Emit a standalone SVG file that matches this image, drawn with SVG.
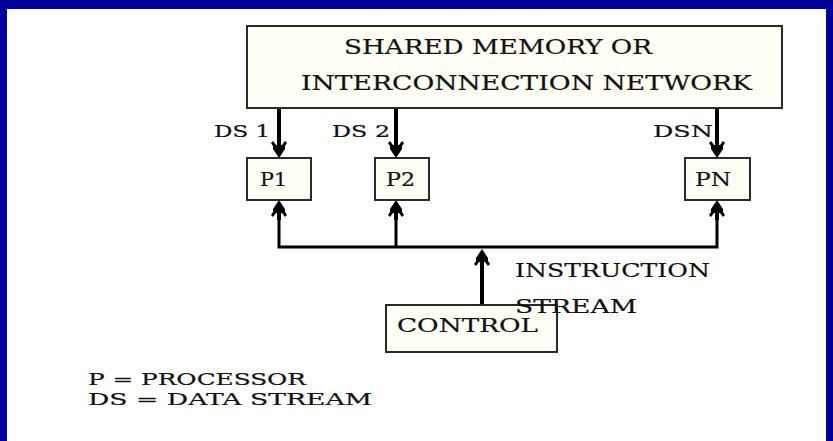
<svg xmlns="http://www.w3.org/2000/svg" width="833" height="441" viewBox="0 0 833 441">
<style>
.box{fill:#fffff6;stroke:#2a2a2a;stroke-width:2}
.t{font-family:"DejaVu Serif","Liberation Serif",serif;fill:#111;stroke:#111;stroke-width:0.2}
.big{font-size:21px}
.mid{font-size:19px}
.leg{font-size:17px}
.sm{font-size:17px}
.ln{stroke:#000;stroke-width:4;fill:none}
.bus{stroke:#000;stroke-width:3;fill:none}
</style>
<defs>
<path id="ah" d="M0,0 L-6,-9 L-6,-12 L-8,-15 L-6,-17 L-3,-13 L-2,-13 L-2,-20 L2,-20 L2,-13 L3,-13 L6,-17 L8,-15 L6,-12 L6,-9 Z" fill="#000"/>
</defs>
<rect x="0" y="0" width="833" height="441" fill="#000099"/>
<rect x="7" y="9" width="819" height="432" fill="#ffffff"/>

<g id="connectors">
<line class="ln" x1="279" y1="108" x2="279" y2="145"/>
<use href="#ah" x="279" y="158"/>
<line class="ln" x1="396" y1="108" x2="396" y2="145"/>
<use href="#ah" x="396" y="158"/>
<line class="ln" x1="717" y1="108" x2="717" y2="145"/>
<use href="#ah" x="717" y="158"/>
<path class="bus" d="M279,212 L279,247 L717,247 L717,212"/>
<line class="bus" x1="396" y1="247" x2="396" y2="212"/>
<use href="#ah" transform="translate(279,200) rotate(180)"/>
<use href="#ah" transform="translate(396,200) rotate(180)"/>
<use href="#ah" transform="translate(717,200) rotate(180)"/>
<line class="ln" x1="482" y1="305" x2="482" y2="262"/>
<use href="#ah" transform="translate(482,249) rotate(180)"/>
</g>

<g id="memory">
<rect class="box" x="247" y="26" width="535" height="82"/>
<text class="t big" x="344" y="54" textLength="308" lengthAdjust="spacingAndGlyphs">SHARED MEMORY OR</text>
<text class="t big" x="301" y="90" textLength="451" lengthAdjust="spacingAndGlyphs">INTERCONNECTION NETWORK</text>
</g>

<g id="p1">
<rect class="box" x="247" y="158" width="64" height="42"/>
<text class="t mid" x="260" y="186" textLength="27" lengthAdjust="spacingAndGlyphs">P1</text>
</g>
<g id="p2">
<rect class="box" x="375" y="158" width="54" height="42"/>
<text class="t mid" x="386" y="186" textLength="29" lengthAdjust="spacingAndGlyphs">P2</text>
</g>
<g id="pn">
<rect class="box" x="685" y="158" width="65" height="42"/>
<text class="t mid" x="695" y="186" textLength="36" lengthAdjust="spacingAndGlyphs">PN</text>
</g>
<g id="control">
<rect class="box" x="386" y="305" width="171" height="47"/>
<text class="t mid" x="397" y="332" textLength="141" lengthAdjust="spacingAndGlyphs">CONTROL</text>
</g>

<g id="labels">
<text class="t sm" x="214" y="137" textLength="56" lengthAdjust="spacingAndGlyphs">DS 1</text>
<text class="t sm" x="332" y="137" textLength="58" lengthAdjust="spacingAndGlyphs">DS 2</text>
<text class="t sm" x="653" y="137" textLength="60" lengthAdjust="spacingAndGlyphs">DSN</text>
<text class="t mid" x="515" y="277" textLength="195" lengthAdjust="spacingAndGlyphs">INSTRUCTION</text>
<text class="t mid" x="515" y="313" textLength="122" lengthAdjust="spacingAndGlyphs">STREAM</text>
<text class="t leg" x="88" y="385" textLength="218" lengthAdjust="spacingAndGlyphs">P = PROCESSOR</text>
<text class="t leg" x="88" y="405" textLength="284" lengthAdjust="spacingAndGlyphs">DS = DATA STREAM</text>
</g>
</svg>
